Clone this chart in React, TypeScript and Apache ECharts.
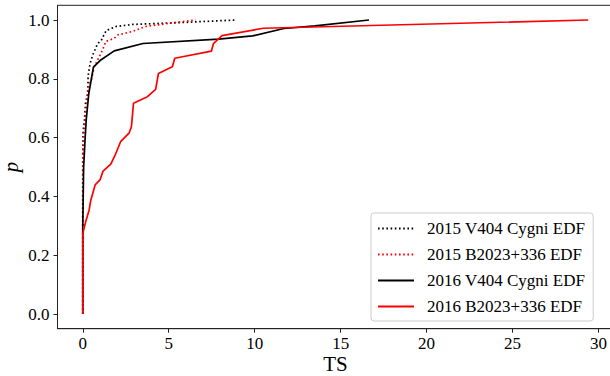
import React, { useEffect, useRef } from "react";
import * as echarts from "echarts";

// 2015 V404 Cygni EDF (dotted black)
const ts2015V404 = [0, 0, 0.02, 0.1, 0.16, 0.29, 0.31, 0.43, 0.62, 0.87, 1.07, 1.36, 1.94, 2.91, 5.21, 8.9];
const p2015V404 = [0, 0.55, 0.62, 0.66, 0.717, 0.75, 0.81, 0.853, 0.887, 0.92, 0.93, 0.964, 0.978, 0.985, 0.99, 1.0];

// 2015 B2023+336 EDF (dotted red)
const ts2015B2023 = [0, 0, 0.05, 0.13, 0.27, 0.29, 0.52, 0.66, 0.87, 1.15, 1.34, 1.84, 2.02, 2.89, 3.66, 5.2, 6.57];
const p2015B2023 = [0, 0.55, 0.6, 0.66, 0.74, 0.768, 0.8, 0.84, 0.864, 0.898, 0.927, 0.938, 0.949, 0.961, 0.978, 0.99, 1.0];

// 2016 V404 Cygni EDF (solid black)
const ts2016V404 = [0, 0, 0.05, 0.13, 0.2, 0.35, 0.62, 1.05, 1.83, 3.5, 7.9, 9.87, 11.7, 13.5, 16.65];
const p2016V404 = [0, 0.3, 0.5, 0.59, 0.66, 0.75, 0.84, 0.864, 0.895, 0.92, 0.935, 0.946, 0.971, 0.98, 1.0];

// 2016 B2023+336 EDF (solid red)
const ts2016B2023 = [0, 0, 0.17, 0.37, 0.47, 0.72, 1.0, 1.18, 1.63, 1.88, 2.2, 2.69, 2.83, 2.95, 3.76, 4.24, 4.4, 5.21, 5.35, 7.48, 7.6, 8.1, 10.5, 29.4];
const p2016B2023 = [0, 0.274, 0.314, 0.354, 0.388, 0.439, 0.456, 0.486, 0.51, 0.54, 0.586, 0.615, 0.637, 0.717, 0.739, 0.764, 0.818, 0.841, 0.87, 0.894, 0.92, 0.947, 0.972, 1.0];

const xTicks = [0, 5, 10, 15, 20, 25, 30];
const yTicks = [0, 0.2, 0.4, 0.6, 0.8, 1.0];

const seriesNames = [
  "2015 V404 Cygni EDF",
  "2015 B2023+336 EDF",
  "2016 V404 Cygni EDF",
  "2016 B2023+336 EDF",
];

const zip = (xs: number[], ys: number[]) => xs.map((x, i) => [x, ys[i]]);

const FONT = "'Liberation Serif', 'DejaVu Serif', serif";

export default function App() {
  const ref = useRef<HTMLDivElement>(null);
  useEffect(() => {
    if (!ref.current) return;
    const chart = echarts.init(ref.current, undefined, { renderer: "svg" });
    const dotted = [1.6, 2.6];
    const mk = (i: number, xs: number[], ys: number[], color: string, isDotted: boolean) => ({
      name: seriesNames[i],
      type: "line",
      data: zip(xs, ys),
      showSymbol: false,
      symbol: "none",
      color,
      itemStyle: { color, opacity: 0 },
      lineStyle: { color, width: 1.7, type: isDotted ? dotted : "solid" },
      z: 2 + i,
    });
    chart.setOption({
      animation: false,
      backgroundColor: "#fff",
      grid: {
        left: 57.5,
        top: 5.3,
        width: 556,
        height: 323.4,
        show: true,
        borderColor: "#222",
        borderWidth: 1,
        backgroundColor: "transparent",
        containLabel: false,
        outerBoundsMode: "none",
      },
      xAxis: {
        type: "value",
        min: -1.47,
        max: 30.87,
        name: "TS",
        nameLocation: "middle",
        nameGap: 25,
        nameMoveOverlap: false,
        nameTextStyle: { fontFamily: FONT, fontSize: 21, color: "#000" },
        axisLine: { show: true, onZero: false, lineStyle: { color: "#222", width: 1 } },
        axisTick: { show: true, inside: false, length: 4, customValues: xTicks, lineStyle: { color: "#222" } },
        axisLabel: {
          customValues: xTicks,
          fontFamily: FONT,
          fontSize: 17,
          color: "#000",
          margin: 6,
          formatter: (v: number) => String(v),
        },
        splitLine: { show: false },
      },
      yAxis: {
        type: "value",
        min: -0.05,
        max: 1.05,
        name: "p",
        nameLocation: "middle",
        nameRotate: 90,
        nameGap: 36,
        nameMoveOverlap: false,
        nameTextStyle: { fontFamily: FONT, fontSize: 21, fontStyle: "italic", color: "#000" },
        axisLine: { show: true, onZero: false, lineStyle: { color: "#222", width: 1 } },
        axisTick: { show: true, inside: false, length: 4, customValues: yTicks, lineStyle: { color: "#222" } },
        axisLabel: {
          customValues: yTicks,
          fontFamily: FONT,
          fontSize: 17,
          color: "#000",
          margin: 8,
          formatter: (v: number) => v.toFixed(1),
        },
        splitLine: { show: false },
      },
      legend: {
        orient: "vertical",
        left: 371,
        top: 213,
        data: seriesNames,
        padding: [7, 8, 6, 6],
        itemWidth: 36,
        itemHeight: 14,
        itemGap: 9,
        backgroundColor: "rgba(255,255,255,0.8)",
        borderColor: "#ccc",
        borderWidth: 1,
        borderRadius: 3,
        itemStyle: { opacity: 0 },
        textStyle: { fontFamily: FONT, fontSize: 17, color: "#000", padding: [0, 0, 0, 8] },
      },
      series: [
        mk(0, ts2015V404, p2015V404, "#000000", true),
        mk(1, ts2015B2023, p2015B2023, "#ff0000", true),
        mk(2, ts2016V404, p2016V404, "#000000", false),
        mk(3, ts2016B2023, p2016B2023, "#ff0000", false),
      ],
    });
    return () => chart.dispose();
  }, []);
  return <div ref={ref} style={{ width: 610, height: 376, position: "absolute", left: 0, top: 0 }} />;
}
